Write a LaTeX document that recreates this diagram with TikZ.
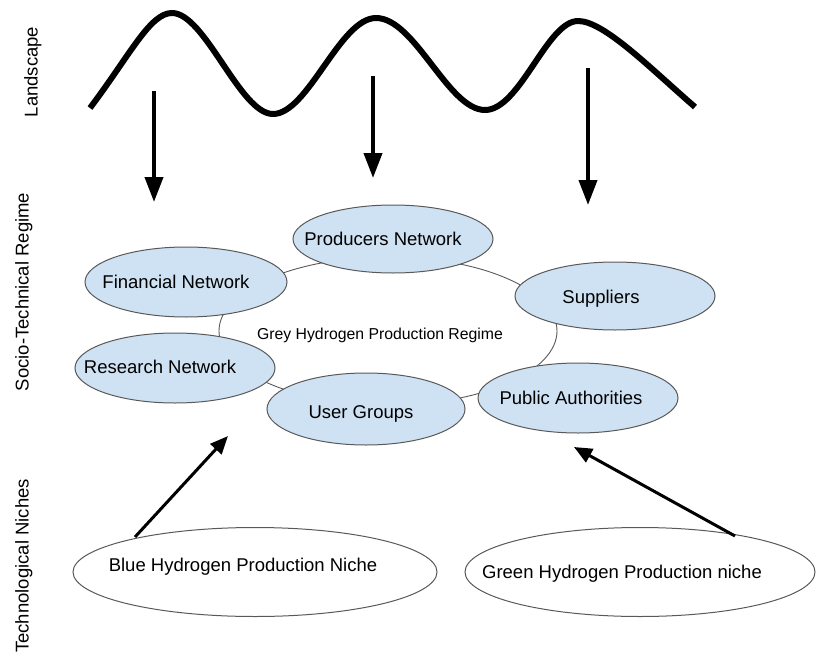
\documentclass[tikz,border=0pt]{standalone}
\usepackage{fontspec}
\setmainfont{Liberation Sans}
\usetikzlibrary{shapes.geometric,arrows.meta}
\definecolor{regfill}{RGB}{207,226,243}
\definecolor{edgegray}{RGB}{89,89,89}

\begin{document}
\begin{tikzpicture}[x=1pt,y=-1pt,
  regnode/.style={ellipse, draw=edgegray, line width=1pt, fill=regfill,
    inner sep=0pt, minimum width=200pt, minimum height=70pt},
  nichenode/.style={ellipse, draw=edgegray, line width=1pt, fill=white,
    inner sep=0pt, minimum height=89pt},
  lbl/.style={font=\fontsize{18.5}{22}\selectfont, inner sep=0pt,
    text height=13.2pt, text depth=0pt},
  small/.style={font=\fontsize{15.8}{19}\selectfont, inner sep=0pt,
    text height=11.3pt, text depth=0pt},
  side/.style={lbl, rotate=90},
  push/.style={-{Triangle[length=25pt,width=18pt]}, line width=4pt},
  rise/.style={-{Triangle[length=18pt,width=15pt]}, line width=3pt},
  ring/.style={draw=edgegray, line width=0.9pt},
  wave/.style={line width=6pt, line join=round}
]
\useasboundingbox (0,0) rectangle (817,656);

% layer labels on the left
\node[side] (lland) at (31,72) {Landscape};
\node[side] (lreg) at (22,292) {Socio-Technical Regime};
\node[side] (lniche) at (22,566) {Technological Niches};

% landscape wave
\draw[wave] (90,108) .. controls (130,55) and (150,13) .. (172,13)
  .. controls (205,13) and (240,114) .. (273,114)
  .. controls (308,114) and (340,18) .. (376,18)
  .. controls (415,18) and (448,110) .. (485,110)
  .. controls (520,110) and (547,21) .. (578,21)
  .. controls (604,21) and (650,68) .. (695,107);

% landscape pressure arrows
\coordinate (p1s) at (154,91);  \coordinate (p1e) at (154,202);
\coordinate (p2s) at (373,76);  \coordinate (p2e) at (373,178);
\coordinate (p3s) at (588,68);  \coordinate (p3e) at (588,205);
\draw[push] (p1s) -- (p1e);
\draw[push] (p2s) -- (p2e);
\draw[push] (p3s) -- (p3e);

% regime ring linking the actor networks
\draw[ring] (388,331) ellipse [x radius=169, y radius=74];
\node[small] (regime) at (380,334) {Grey Hydrogen Production Regime};

% actor networks
\node[regnode, minimum width=202pt] (fin) at (186,282) {};
\node[lbl] (fin-t) at (176,282) {Financial Network};
\node[regnode, minimum height=68pt] (prod) at (393,239) {};
\node[lbl] (prod-t) at (383,239) {Producers Network};
\node[regnode, minimum height=68pt] (sup) at (615,296) {};
\node[lbl] (sup-t) at (601,297) {Suppliers};
\node[regnode] (res) at (175,368) {};
\node[lbl] (res-t) at (160,367) {Research Network};
\node[regnode, minimum width=198pt, minimum height=72pt] (user) at (366,409) {};
\node[lbl] (user-t) at (361,412) {User Groups};
\node[regnode] (pub) at (578,398) {};
\node[lbl] (pub-t) at (571,398) {Public Authorities};

% technological niches
\node[nichenode, minimum width=364pt] (blue) at (255,572) {};
\node[lbl] (blue-t) at (243,565) {Blue Hydrogen Production Niche};
\node[nichenode, minimum width=350pt] (green) at (640,572) {};
\node[lbl] (green-t) at (622,572) {Green Hydrogen Production niche};

% niche pressure arrows
\coordinate (b1s) at (135,537); \coordinate (b1e) at (228,436);
\coordinate (g1s) at (735,536); \coordinate (g1e) at (574,447);
\draw[rise] (b1s) -- (b1e);
\draw[rise] (g1s) -- (g1e);
\end{tikzpicture}
\end{document}
